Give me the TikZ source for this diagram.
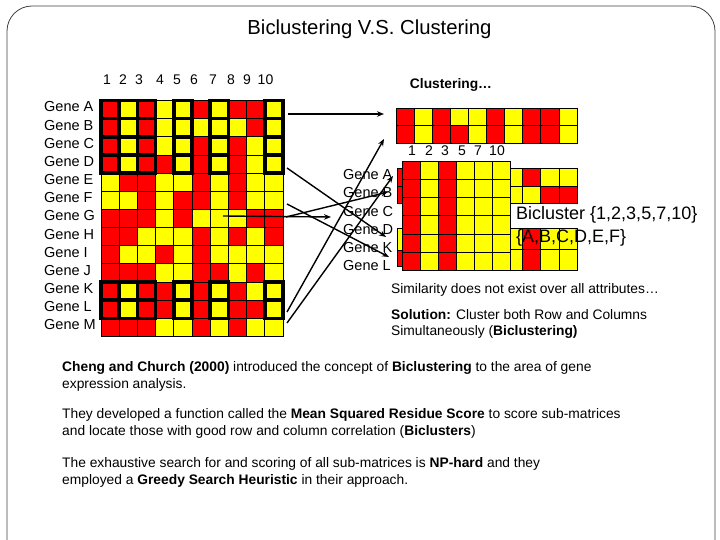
\documentclass[tikz,border=0pt]{standalone}
\usepackage{fontspec}
\setmainfont{Liberation Sans}
\usetikzlibrary{arrows.meta}
\definecolor{cred}{RGB}{255,0,0}
\definecolor{cyel}{RGB}{255,255,0}
\tikzset{
  cell/.style={draw=black,line width=0.8pt},
  selbox/.style={draw=black,line width=3.6pt},
  lbl/.style={font=\fontsize{14.5}{16}\selectfont,inner sep=0pt,anchor=base west},
  num/.style={font=\fontsize{14}{16}\selectfont,inner sep=0pt,anchor=base},
  txt/.style={font=\fontsize{13.8}{16}\selectfont,inner sep=0pt,anchor=base west},
  big/.style={font=\fontsize{18}{21}\selectfont,inner sep=0pt,anchor=base west},
  arr/.style={-{Stealth[length=7pt,width=5.5pt]},line width=1.4pt},
}
\begin{document}
\begin{tikzpicture}[x=1pt,y=-1pt]
\useasboundingbox (0,0) rectangle (720,540);
% frame
\draw[black!75,line width=0.8pt,rounded corners=25pt] (7,560) -- (7,6) -- (715,6) -- (715,560);
% title
\node[font=\fontsize{20.3}{23}\selectfont,inner sep=0pt,anchor=base] (title) at (369.5,35) {Biclustering V.S. Clustering};

% ---------- left data matrix ----------
\foreach \row [count=\r from 0] in {
 {1,0,1,0,0,1,0,1,1,0},
 {1,0,1,0,0,0,0,0,1,0},
 {1,0,1,0,0,1,0,1,0,0},
 {1,0,1,1,0,1,0,1,0,0},
 {0,1,1,0,0,1,0,1,0,0},
 {0,0,1,0,1,1,0,1,0,0},
 {1,1,1,0,1,0,0,0,1,1},
 {1,1,0,0,0,1,0,1,0,1},
 {1,0,0,1,0,1,0,0,0,0},
 {1,1,1,0,0,1,1,0,1,0},
 {1,0,1,1,0,1,0,1,0,0},
 {1,0,1,1,0,1,0,1,1,0},
 {1,1,1,0,0,1,0,1,0,0}} {
  \foreach \v [count=\c from 0] in \row {
    \ifnum\v=1 \def\cc{cred}\else\def\cc{cyel}\fi
    \path[cell,fill=\cc] ({101+\c*18.2},{100.5+\r*18.15}) rectangle ++(18.2,18.15);
  }
}
% bicluster cells outlined
\foreach \r in {0,1,2,3,10,11}
  \foreach \c in {0,1,2,4,6,9}
    \draw[selbox] ({101+\c*18.2},{100.5+\r*18.15}) rectangle ++(18.2,18.15);

% column numbers
\foreach \n/\xx in {1/107,2/123,3/139,4/160,5/177,6/194,7/213,8/231,9/247,10/265.5}
  \node[num] (cn\n) at (\xx,85) {\n};
% gene labels
\foreach \g [count=\k from 0] in {A,B,C,D,E,F,G,H,I,J,K,L,M}
  \node[lbl] (g\g) at (44,{112+\k*18.15}) {Gene \g};

% ---------- clustering result ----------
\node[font=\bfseries\fontsize{13.8}{16}\selectfont,inner sep=0pt,anchor=base] (clu) at (451,89) {Clustering\ldots};
\foreach \row [count=\r from 0] in {
 {1,0,1,0,0,1,0,1,1,0},
 {1,0,1,1,0,1,0,1,1,0}} {
  \foreach \v [count=\c from 0] in \row {
    \ifnum\v=1 \def\cc{cred}\else\def\cc{cyel}\fi
    \path[cell,fill=\cc] ({396+\c*18.1},{108.3+\r*17.6}) rectangle ++(18.1,17.6);
  }
}
\coordinate (top1) at (384,114);
\coordinate (top2) at (384,139);

% ---------- bicluster picture ----------
% fragments behind
\path[cell,fill=cred] (397,168) rectangle (405,186);
\path[cell,fill=cred] (397,186) rectangle (405,203);
\path[cell,fill=cyel] (397,228) rectangle (405,250);
\path[cell,fill=cred] (397,250) rectangle (405,266);
\foreach \v [count=\c from 0] in {0,1,0,0}{
  \ifnum\v=1 \def\cc{cred}\else\def\cc{cyel}\fi
  \path[cell,fill=\cc] ({504+\c*18.3},168) rectangle ++(18.3,18);}
\foreach \v [count=\c from 0] in {0,0,1,1}{
  \ifnum\v=1 \def\cc{cred}\else\def\cc{cyel}\fi
  \path[cell,fill=\cc] ({504+\c*18.3},186) rectangle ++(18.3,17.5);}
\foreach \v [count=\c from 0] in {0,1,0,0}{
  \ifnum\v=1 \def\cc{cred}\else\def\cc{cyel}\fi
  \path[cell,fill=\cc] ({504+\c*18.3},228) rectangle ++(18.3,21);
  \path[cell,fill=\cc] ({504+\c*18.3},249) rectangle ++(18.3,21);}
% main bicluster
\foreach \r in {0,...,5}
  \foreach \v [count=\c from 0] in {1,0,1,0,0,0} {
    \ifnum\v=1 \def\cc{cred}\else\def\cc{cyel}\fi
    \path[cell,fill=\cc] ({402.3+\c*18.07},{161.7+\r*18.05}) rectangle ++(18.07,18.05);
  }
\foreach \n/\xx in {1/412,2/429,3/445,5/462,7/478,10/497}
  \node[num] (bn\n) at (\xx,156) {\n};
\foreach \g [count=\k from 0] in {A,B,C,D,K,L}
  \node[lbl] (h\g) at (343,{180+\k*18}) {Gene \g};
\node[big] (bic1) at (516,220) {Bicluster \{1,2,3,5,7,10\}};
\node[big] (bic2) at (516,242) {\{A,B,C,D,E,F\}};

% ---------- arrows ----------
\coordinate (s1) at (288,114);
\coordinate (s2) at (287,168);
\coordinate (s3) at (287,204);
\coordinate (s4) at (223,216);
\coordinate (s5) at (286,217);
\coordinate (s6) at (287,312);
\coordinate (s7) at (287,323);
\coordinate (e2) at (386,237);
\coordinate (e3) at (389,257);
\coordinate (e4) at (331,217);
\coordinate (e5) at (388,192);
\coordinate (e7) at (393,176);
\draw[arr] (s1) -- (top1);
\draw[arr] (s2) -- (e2);
\draw[arr] (s3) -- (e3);
\draw[arr] (s4) -- (e4);
\draw[arr] (s5) -- (e5);
\draw[arr] (s6) -- (top2);
\draw[arr] (s7) -- (e7);

% ---------- texts ----------
\node[txt] (t1) at (391,293) {Similarity does not exist over all attributes\ldots};
\node[txt] (t2) at (391,319) {\textbf{Solution:} Cluster both Row and Columns};
\node[txt] (t3) at (391,335) {Simultaneously (\textbf{Biclustering)}};
\node[txt] (p1) at (62,371) {\textbf{Cheng and Church (2000)} introduced the concept of \textbf{Biclustering} to the area of gene};
\node[txt] (p2) at (62,388) {expression analysis.};
\node[txt] (p3) at (62,418) {They developed a function called the \textbf{Mean Squared Residue Score} to score sub-matrices};
\node[txt] (p4) at (62,435) {and locate those with good row and column correlation (\textbf{Biclusters})};
\node[txt] (p5) at (62,467) {The exhaustive search for and scoring of all sub-matrices is \textbf{NP-hard} and they};
\node[txt] (p6) at (62,484) {employed a \textbf{Greedy Search Heuristic} in their approach.};
\end{tikzpicture}
\end{document}
